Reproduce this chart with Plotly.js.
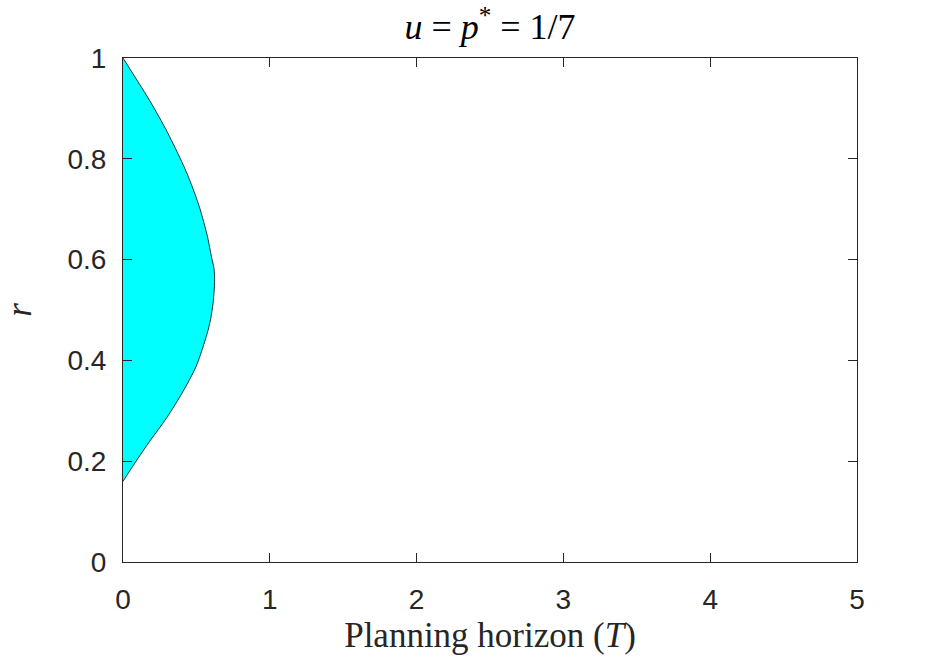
<!DOCTYPE html>
<html>
<head>
<meta charset="utf-8">
<script src="https://cdn.plot.ly/plotly-3.0.1.min.js"></script>
<style>html,body{margin:0;padding:0;background:#fff;}#chart{width:946px;height:666px;}</style>
</head>
<body>
<div id="chart"></div>
<script>
// Boundary of the shaded region: planning horizon T as a function of r
const horizonT = [0, 0.080, 0.188, 0.295, 0.408, 0.498, 0.574, 0.597, 0.613, 0.621, 0.624, 0.620, 0.603, 0.576, 0.520, 0.458, 0.410, 0.300, 0.187, 0.102, 0];
const rValues  = [0.160, 0.196, 0.242, 0.285, 0.338, 0.388, 0.454, 0.482, 0.512, 0.538, 0.560, 0.582, 0.605, 0.645, 0.705, 0.755, 0.788, 0.854, 0.913, 0.953, 1.0];
const xTicks = [0, 1, 2, 3, 4, 5];
const yTicks = [0, 0.2, 0.4, 0.6, 0.8, 1];
const yTickLabels = ['0', '0.2', '0.4', '0.6', '0.8', '1'];

const trace = {
  x: horizonT,
  y: rValues,
  type: 'scatter',
  mode: 'lines',
  fill: 'toself',
  fillcolor: '#00FFFF',
  line: {color: '#000000', width: 0.8, shape: 'spline', smoothing: 0.8},
  hoverinfo: 'skip',
  showlegend: false
};

const axisCommon = {
  showgrid: false,
  zeroline: false,
  showline: true,
  linecolor: '#262626',
  linewidth: 1,
  mirror: 'ticks',
  ticks: 'inside',
  ticklen: 9,
  tickwidth: 1,
  tickcolor: '#262626',
  tickfont: {family: 'Liberation Sans, Arial, sans-serif', size: 28, color: '#262626'}
};

const layout = {
  width: 946,
  height: 666,
  paper_bgcolor: '#ffffff',
  plot_bgcolor: '#ffffff',
  margin: {l: 123, r: 89, t: 58, b: 104},
  title: {
    text: '<i>u</i> = <i>p</i><sup>*</sup> = 1/7',
    font: {family: 'Liberation Serif, Times New Roman, serif', size: 36, color: '#000000'},
    x: 0.518, xanchor: 'center', y: 0.96, yanchor: 'middle'
  },
  xaxis: Object.assign({}, axisCommon, {
    range: [0, 5],
    tickvals: xTicks,
    ticktext: xTicks.map(String),
    ticklabelstandoff: 12,
    title: {text: 'Planning horizon (<i>T</i>)', font: {family: 'Liberation Serif, Times New Roman, serif', size: 35, color: '#262626'}, standoff: 8}
  }),
  yaxis: Object.assign({}, axisCommon, {
    range: [0, 1],
    tickvals: yTicks,
    ticktext: yTickLabels,
    ticklabelstandoff: 10,
    title: {text: '<i>r</i>', font: {family: 'Liberation Serif, Times New Roman, serif', size: 35, color: '#262626'}, standoff: 30}
  })
};

Plotly.newPlot('chart', [trace], layout, {displayModeBar: false, staticPlot: true});
</script>
</body>
</html>
